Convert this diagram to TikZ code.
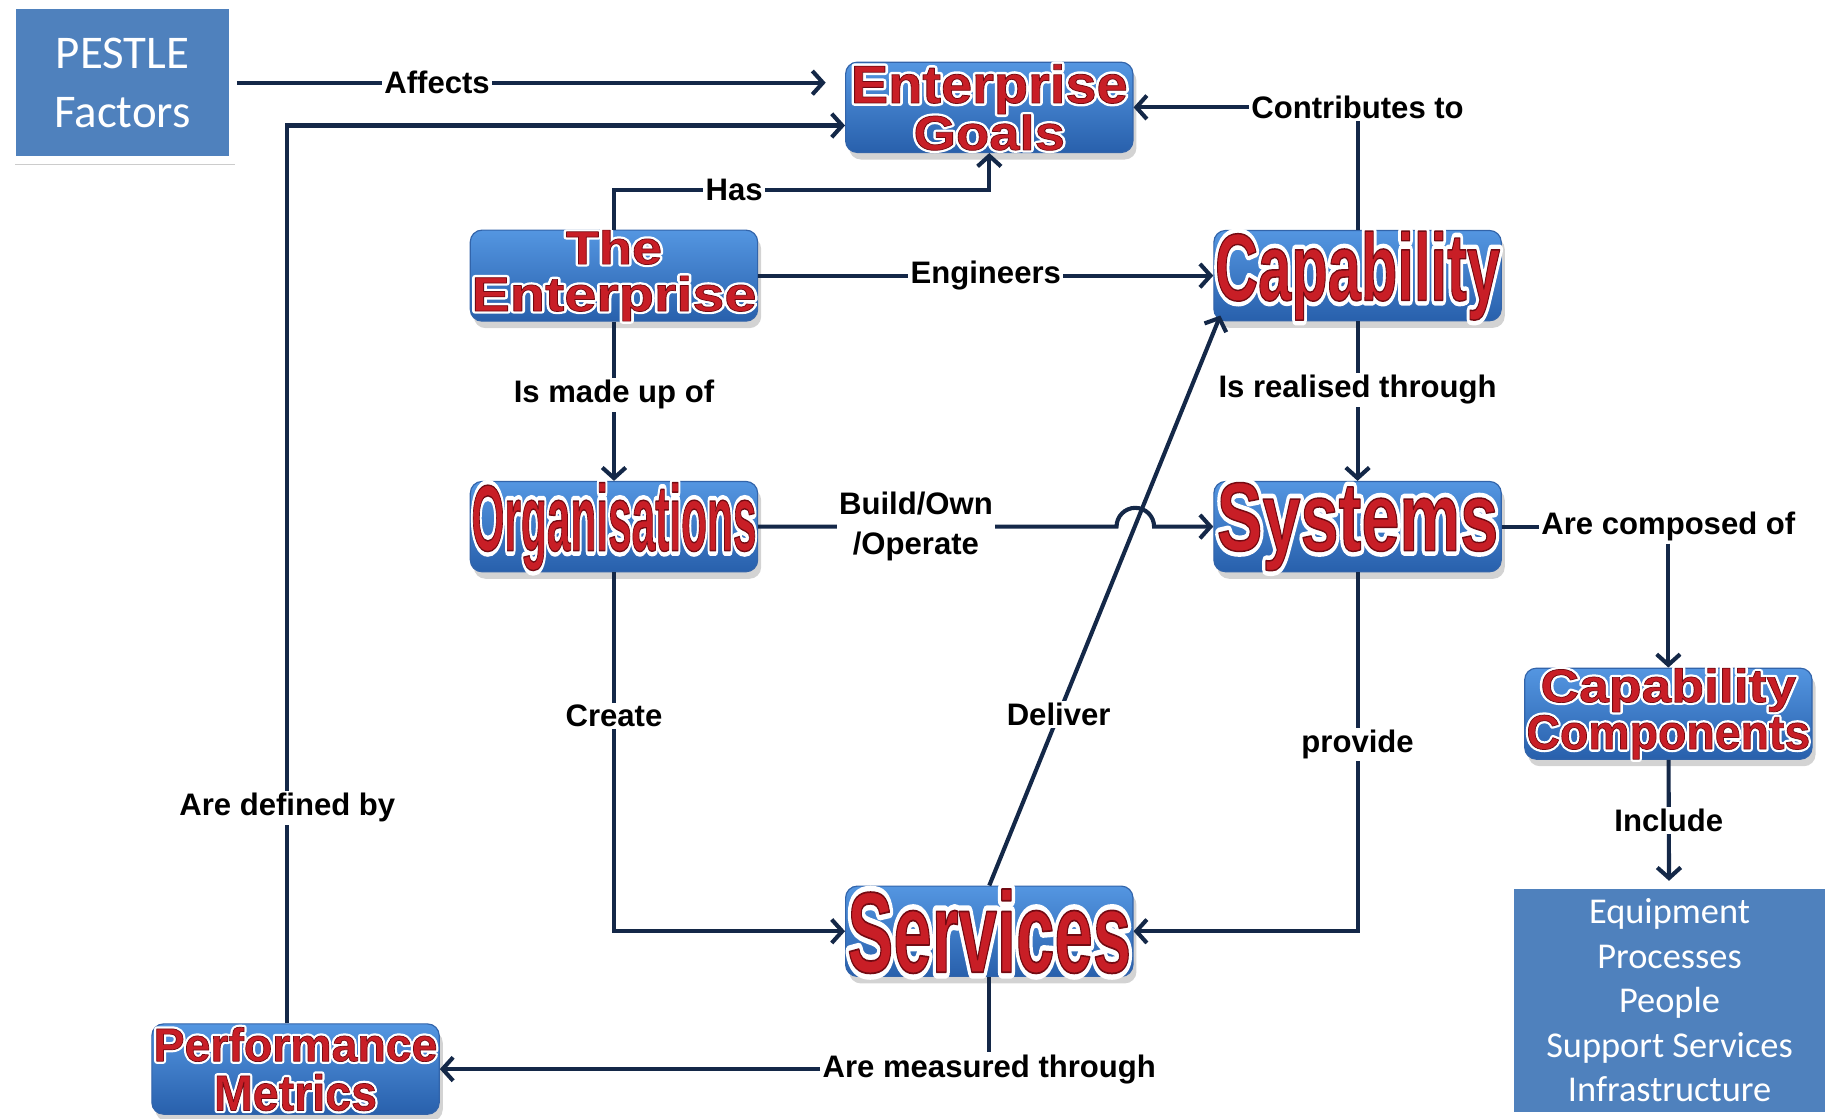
\documentclass[tikz,border=0pt]{standalone}
\usepackage{fontspec}
\setmainfont{Liberation Sans}
\newfontfamily\calfont{Carlito}
\newfontfamily\wafontw[FakeBold=11]{Liberation Sans Bold}
\newfontfamily\wafontr[FakeBold=1.5]{Liberation Sans Bold}
\usepackage{graphicx}
\usetikzlibrary{arrows.meta,shadows}

\definecolor{linecol}{RGB}{20,40,72}
\definecolor{boxtop}{RGB}{84,150,225}
\definecolor{boxbot}{RGB}{40,96,172}
\definecolor{boxedge}{RGB}{50,100,170}
\definecolor{flatblue}{RGB}{79,129,189}
\definecolor{wordred}{RGB}{200,30,38}

\newcommand{\wa}[3]{\resizebox{#1pt}{#2pt}{\fontsize{#2pt}{10pt}\selectfont
  \rlap{\color{white}\special{pdf:code 1 j}\wafontw #3}%
  {\color{wordred}\special{pdf:code 0.45 0.04 0.07 RG 1 j}\wafontr #3}}}

\tikzset{
  wabox/.style={rectangle, rounded corners=10pt, minimum width=245pt, minimum height=77pt, inner sep=0pt,
    top color=boxtop, bottom color=boxbot, draw=boxedge, line width=1pt,
    drop shadow={shadow xshift=3pt, shadow yshift=-6pt, opacity=0.35},
    align=center, font=\fontsize{20pt}{40pt}\selectfont},
  flatbox/.style={rectangle, fill=flatblue, draw=white, line width=7pt, inner sep=0pt,
    drop shadow={shadow xshift=2pt, shadow yshift=-4pt, opacity=0.4}, text=white, align=center},
  lbl/.style={fill=white, inner sep=2pt, text=black, align=center, font=\fontsize{26.5pt}{34pt}\selectfont\bfseries},
  conn/.style={draw=linecol, line width=3.5pt},
  arr/.style={conn, -{Straight Barb[length=9pt,width=20pt]}}
}

\begin{document}
\begin{tikzpicture}[x=1pt, y=-1pt]
  \useasboundingbox (0,0) rectangle (1568,954);

  \node (pestle) at (104.5, 70.5) [flatbox, minimum width=188pt, minimum height=132pt,
    font=\calfont\fontsize{40pt}{50pt}\selectfont] {PESTLE\\Factors};
  \node (list) at (1423.5, 853) [flatbox, minimum width=272pt, minimum height=197pt,
    font=\calfont\fontsize{31pt}{38pt}\selectfont] {Equipment\\Processes\\People\\Support Services\\Infrastructure};

  \node (goals) at ( 843.5,  91.5) [wabox] {\wa{236}{33}{Enterprise}\\\wa{129}{30}{Goals}};
  \node (ent)   at ( 523.5, 235.0) [wabox] {\wa{82}{29}{The}\\\wa{243}{30}{Enterprise}};
  \node (cap)   at (1157.5, 235.0) [wabox] {\wa{243}{59}{Capability}};
  \node (org)   at ( 523.5, 449.0) [wabox] {\wa{243}{58}{Organisations}};
  \node (sys)   at (1157.5, 449.0) [wabox] {\wa{240}{58}{Systems}};
  \node (comp)  at (1422.5, 608.5) [wabox] {\wa{218}{29}{Capability}\\\wa{242}{29}{Components}};
  \node (serv)  at ( 843.5, 794.0) [wabox] {\wa{242}{71}{Services}};
  \node (perf)  at ( 252.0, 911.5) [wabox, font=\fontsize{20pt}{42pt}\selectfont] {\wa{242}{29}{Performance}\\\wa{139}{31}{Metrics}};

  \coordinate (affin) at (704, 70.5);
  \coordinate (hopl) at (952, 449);
  \coordinate (capin) at ([xshift=6pt,yshift=5pt]cap.south west);

  \draw[arr] (pestle) -- node[lbl, pos=0.34] {Affects} (affin);
  \draw[arr] ([xshift=-7pt]perf.north) |- node[lbl, pos=0.12] {Are defined by} ([yshift=-15.5pt]goals.west);
  \draw[arr] (ent.north) -- ++(0,-34) -| node[lbl, pos=0.16] {Has} (goals.south);
  \draw[arr] (ent) -- node[lbl] {Engineers} (cap);

  \node (contrib) at (cap |- goals) [lbl] {Contributes to};
  \draw[conn] (cap) -- (contrib);
  \draw[arr] (contrib) -- (goals);

  \draw[arr] (ent) -- node[lbl, pos=0.46] {Is made up of} (org);
  \draw[arr] (cap) -- node[lbl, pos=0.43] {Is realised through} (sys);

  \draw[arr] (serv.north) -- node[lbl, pos=0.3] {Deliver} (capin);
  \draw[arr] (org) -- node[lbl, pos=0.44] {Build/Own\\/Operate} (hopl)
    arc[start angle=180, end angle=0, radius=16pt] -- (sys);

  \node (composed) at (comp |- sys) [lbl] {Are composed of};
  \draw[conn] (sys) -- (composed);
  \draw[arr] (composed) -- (comp);
  \draw[arr] (comp) -- node[lbl] {Include} (list);

  \draw[arr] (org) |- node[lbl, pos=0.2] {Create} (serv);
  \draw[arr] (sys) |- node[lbl, pos=0.24] {provide} (serv);

  \node (measured) at (serv |- perf) [lbl] {Are measured through};
  \draw[conn] (serv) -- (measured);
  \draw[arr] (measured) -- (perf);
\end{tikzpicture}
\end{document}
